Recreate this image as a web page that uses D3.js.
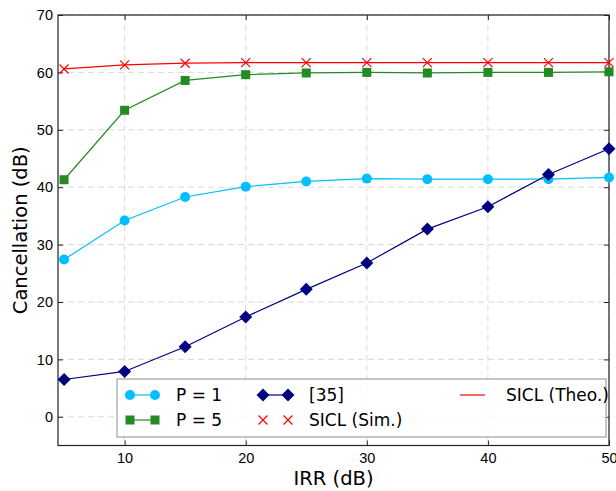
<!DOCTYPE html>
<html>
<head>
<meta charset="utf-8">
<script src="https://cdn.jsdelivr.net/npm/d3@7"></script>
<style>
  body { margin: 0; background: #fff; }
  svg { display: block; font-family: "DejaVu Sans", sans-serif; }
  .tick text { fill: #000; }
</style>
</head>
<body>
<div id="chart"></div>
<script>
// data
var irr = [5, 10, 15, 20, 25, 30, 35, 40, 45, 50];
var p1 = [27.4, 34.2, 38.3, 40.1, 41.0, 41.5, 41.4, 41.4, 41.4, 41.7];
var p5 = [41.3, 53.4, 58.6, 59.6, 59.9, 60.0, 59.9, 60.0, 60.0, 60.1];
var ref35 = [6.5, 7.9, 12.2, 17.4, 22.2, 26.8, 32.7, 36.6, 42.2, 46.7];
var siclSim = [60.6, 61.3, 61.6, 61.7, 61.7, 61.7, 61.7, 61.7, 61.7, 61.7];
var siclTheo = [60.6, 61.3, 61.6, 61.7, 61.7, 61.7, 61.7, 61.7, 61.7, 61.7];
var xTicks = [10, 20, 30, 40, 50];
var yTicks = [0, 10, 20, 30, 40, 50, 60, 70];

var W = 616, H = 491;
var margin = {top: 15, right: 7, bottom: 45.5, left: 58};
var iw = W - margin.left - margin.right;
var ih = H - margin.top - margin.bottom;

var svg = d3.select("#chart").append("svg")
	.attr("width", W)
	.attr("height", H);
var g = svg.append("g").attr("transform", "translate(" + margin.left + "," + margin.top + ")");

var x = d3.scaleLinear().domain([4.5, 50]).range([0, iw]);
var y = d3.scaleLinear().domain([-5, 70]).range([ih, 0]);

// grid
g.append("g").selectAll("line").data(xTicks).enter().append("line")
	.attr("x1", function(d) { return x(d); }).attr("x2", function(d) { return x(d); })
	.attr("y1", 0).attr("y2", ih)
	.attr("stroke", "#d9d9d9").attr("stroke-dasharray", "6,4");
g.append("g").selectAll("line").data(yTicks).enter().append("line")
	.attr("y1", function(d) { return y(d); }).attr("y2", function(d) { return y(d); })
	.attr("x1", 0).attr("x2", iw)
	.attr("stroke", "#d9d9d9").attr("stroke-dasharray", "6,4");

// axes, ticks pointing inward on all sides
function styleAxis(sel) {
	sel.select(".domain").remove();
	sel.selectAll(".tick line").attr("stroke", "#222");
	sel.selectAll(".tick text").attr("font-size", 14.5);
}
g.append("g").attr("transform", "translate(0," + ih + ")")
	.call(d3.axisBottom(x).tickValues(xTicks).tickSizeInner(-5).tickSizeOuter(0).tickPadding(7))
	.call(styleAxis);
g.append("g")
	.call(d3.axisTop(x).tickValues(xTicks).tickSizeInner(-5).tickSizeOuter(0).tickFormat(""))
	.call(styleAxis);
g.append("g")
	.call(d3.axisLeft(y).tickValues(yTicks).tickSizeInner(-5).tickSizeOuter(0).tickPadding(5))
	.call(styleAxis);
g.append("g").attr("transform", "translate(" + iw + ",0)")
	.call(d3.axisRight(y).tickValues(yTicks).tickSizeInner(-5).tickSizeOuter(0).tickFormat(""))
	.call(styleAxis);

g.append("rect")
	.attr("width", iw).attr("height", ih)
	.attr("fill", "none").attr("stroke", "#222").attr("stroke-width", 1.2);

// markers
function markerPath(type) {
	if (type === "circle") return d3.symbol().type(d3.symbolCircle).size(Math.PI * 25)();
	if (type === "square") return "M-4.5,-4.5H4.5V4.5H-4.5Z";
	if (type === "diamond") return "M0,-6.5L6.5,0L0,6.5L-6.5,0Z";
	if (type === "x") return "M-4.5,-4.5L4.5,4.5M-4.5,4.5L4.5,-4.5";
	return null;
}

var series = [
	{name: "P = 1", vals: p1, color: "#00bfff", marker: "circle", line: true},
	{name: "P = 5", vals: p5, color: "#228b22", marker: "square", line: true},
	{name: "[35]", vals: ref35, color: "#000080", marker: "diamond", line: true},
	{name: "SICL (Sim.)", vals: siclSim, color: "#ff0000", marker: "x", line: false},
	{name: "SICL (Theo.)", vals: siclTheo, color: "#ff0000", marker: null, line: true}
];

var line = d3.line()
	.x(function(d) { return x(d[0]); })
	.y(function(d) { return y(d[1]); });

series.forEach(function(s) {
	var pts = irr.map(function(v, i) { return [v, s.vals[i]]; });
	if (s.line) {
		g.append("path").datum(pts)
			.attr("d", line)
			.attr("fill", "none")
			.attr("stroke", s.color)
			.attr("stroke-width", 1.2);
	}
	if (s.marker) {
		g.selectAll(null).data(pts).enter().append("path")
			.attr("transform", function(d) { return "translate(" + x(d[0]) + "," + y(d[1]) + ")"; })
			.attr("d", markerPath(s.marker))
			.attr("fill", s.marker === "x" ? "none" : s.color)
			.attr("stroke", s.color)
			.attr("stroke-width", s.marker === "x" ? 1.2 : 0);
	}
});

// axis labels
svg.append("text")
	.attr("x", margin.left + iw / 2).attr("y", 485)
	.attr("text-anchor", "middle").attr("font-size", 19.5)
	.text("IRR (dB)");
svg.append("text")
	.attr("transform", "translate(27," + (margin.top + ih / 2) + ") rotate(-90)")
	.attr("text-anchor", "middle").attr("font-size", 19.5)
	.text("Cancellation (dB)");

// legend
var legendOrder = [series[0], series[1], series[2], series[3], series[4]];
var legPos = [[0, 0], [0, 1], [1, 0], [1, 1], [2, 0]];
var colX = [0, 133, 330];
var lg = svg.append("g").attr("transform", "translate(117,379)");
lg.append("rect")
	.attr("width", 489).attr("height", 58)
	.attr("fill", "#fff").attr("fill-opacity", 0.8)
	.attr("stroke", "#b3b3b3").attr("stroke-width", 1.5);
legendOrder.forEach(function(s, i) {
	var cx = colX[legPos[i][0]] + 13;
	var cy = 16 + legPos[i][1] * 25;
	var it = lg.append("g").attr("transform", "translate(" + cx + "," + cy + ")");
	if (s.line) {
		it.append("line").attr("x1", 0).attr("x2", 25).attr("y1", 0).attr("y2", 0)
			.attr("stroke", s.color).attr("stroke-width", 1.2);
	}
	if (s.marker) {
		[0, 25].forEach(function(mx) {
			it.append("path")
				.attr("transform", "translate(" + mx + ",0)")
				.attr("d", markerPath(s.marker))
				.attr("fill", s.marker === "x" ? "none" : s.color)
				.attr("stroke", s.color)
				.attr("stroke-width", s.marker === "x" ? 1.2 : 0);
		});
	}
	it.append("text")
		.attr("x", 46).attr("y", 6)
		.attr("font-size", 17)
		.text(s.name);
});
</script>
</body>
</html>
